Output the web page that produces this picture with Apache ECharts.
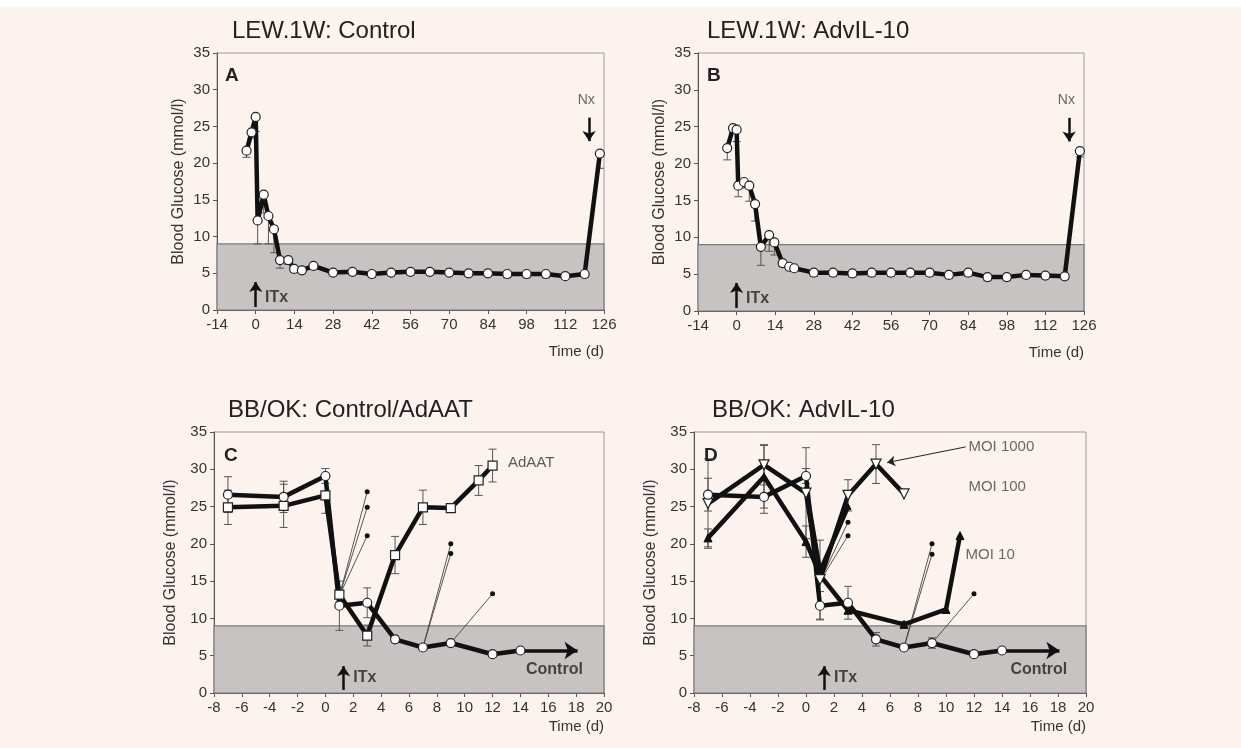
<!DOCTYPE html>
<html><head><meta charset="utf-8">
<script src="https://cdn.jsdelivr.net/npm/echarts@6/dist/echarts.min.js"></script>
<style>html,body{margin:0;padding:0;background:#fff}#c{width:1241px;height:748px}</style>
</head><body><div id="c"></div>
<script>
// ---------- DATA ----------
// Panel A: LEW.1W Control
const aDays = [-3.3, -1.5, 0, 0.7, 2.9, 4.6, 6.6, 8.8, 11.8, 13.9, 16.7, 20.9, 28, 35, 42, 49, 56, 63, 70, 77, 84, 91, 98, 105, 112, 119, 124.5];
const aGlucose = [21.7, 24.2, 26.3, 12.2, 15.7, 12.8, 11.0, 6.8, 6.8, 5.6, 5.4, 6.0, 5.1, 5.2, 4.9, 5.1, 5.2, 5.2, 5.1, 5.0, 5.0, 4.9, 4.9, 4.9, 4.6, 4.9, 21.3];
const aErr = [0.9, 0.8, 2.0, 3.2, 2.5, 3.8, 3.2, 1.1, 0.6, 0.5, 0.4, 0.4, 0.4, 0.4, 0.4, 0.4, 0.4, 0.4, 0.4, 0.4, 0.4, 0.5, 0.5, 0.5, 0.4, 0.4, 2.0];
// Panel B: LEW.1W AdvIL-10
const bDays = [-3.4, -1.3, 0, 0.6, 2.7, 4.6, 6.7, 8.8, 11.8, 13.7, 16.7, 19.1, 20.9, 28, 35, 42, 49, 56, 63, 70, 77, 84, 91, 98, 105, 112, 119, 124.5];
const bGlucose = [22.1, 24.8, 24.6, 17.0, 17.5, 17.0, 14.5, 8.7, 10.3, 9.3, 6.5, 6.0, 5.8, 5.2, 5.2, 5.1, 5.2, 5.2, 5.2, 5.2, 4.9, 5.2, 4.6, 4.6, 4.9, 4.8, 4.7, 21.7];
const bErr = [1.6, 0.6, 1.6, 1.5, 0.8, 2.1, 2.3, 2.5, 2.2, 1.7, 0.5, 0.4, 0.4, 0.5, 0.5, 0.5, 0.5, 0.5, 0.5, 0.5, 0.5, 0.5, 0.5, 0.5, 0.5, 0.4, 0.4, 0.8];
// Panel C: BB/OK Control / AdAAT
const ctlDays = [-7, -3, 0, 1, 3, 5, 7, 9, 12, 14];
const ctlGlucose = [26.6, 26.3, 29.1, 11.7, 12.1, 7.2, 6.1, 6.7, 5.2, 5.7];
const ctlErrC = [2.4, 2.1, 1.0, 3.3, 2.0, 0.4, 0.3, 0.3, 0.3, 0.3];
const aatDays = [-7, -3, 0, 1, 3, 5, 7, 9, 11, 12];
const aatGlucose = [24.9, 25.1, 26.5, 13.2, 7.7, 18.5, 24.9, 24.8, 28.5, 30.5];
const aatErr = [2.3, 2.9, 2.4, 1.0, 1.4, 2.5, 2.3, 0.5, 2.0, 2.2];
// individual rejection traces (start day, start value, end day, end value)
const rejStartDay = [1, 1, 1, 7, 7, 9];
const rejStartVal = [13.0, 13.0, 13.0, 6.1, 6.1, 6.7];
const rejEndDay = [3, 3, 3, 9, 9, 12];
const rejEndVal = [27.0, 24.9, 21.1, 20.0, 18.7, 13.3];
// Panel D: BB/OK AdvIL-10
const ctlErrD = [2.2, 2.2, 1.0, 1.9, 2.2, 0.9, 0.3, 0.7, 0.3, 0.3];
const moi1000Days = [-7, -3, 0, 1, 3, 5, 7];
const moi1000 = [25.4, 30.6, 26.8, 15.2, 26.5, 30.7, 26.7];
const moi1000Err = [6.0, 2.7, 6.1, 5.3, 2.1, 2.6, 0];
const moi100Days = [0, 1, 3];
const moi100 = [27.5, 16.3, 25.0];
const moi10Days = [-7, -3, 0, 1, 3, 7, 10, 11];
const moi10 = [20.8, 29.0, 20.3, 15.8, 11.1, 9.2, 11.2, 21.1];
const moi10Err = [1.2, 4.2, 2.1, 0, 0, 0.4, 0, 0];
const dRejStartDay = [1, 1, 7, 7, 9];
const dRejStartVal = [15.0, 15.0, 6.1, 6.1, 6.7];
const dRejEndDay = [3, 3, 9, 9, 12];
const dRejEndVal = [22.9, 21.1, 20.0, 18.6, 13.3];
// axis ticks
const longDayTicks = {min: -14, max: 126, interval: 14};
const shortDayTicks = {min: -8, max: 20, interval: 2};
const glucoseTicks = {min: 0, max: 35, interval: 5};
const normoLimit = 9;

// ---------- BUILD ----------
const FONT = 'Liberation Sans, Arial, sans-serif';
const zip = (xs, ys) => xs.map((x, i) => [x, ys[i]]);
const errLow = (xs, ys, es) => xs.map((x, i) => [x, ys[i] - es[i], ys[i]]).filter((d, i) => es[i] > 0);
const errBoth = (xs, ys, es) => xs.map((x, i) => [x, ys[i] - es[i], ys[i] + es[i]]).filter((d, i) => es[i] > 0);

const grids = [
  {left: 217, top: 53, width: 387, height: 257},
  {left: 698, top: 53, width: 386, height: 258},
  {left: 214, top: 432, width: 390, height: 261},
  {left: 694, top: 432, width: 392, height: 261}
].map(g => Object.assign(g, {show: true, borderColor: '#9a9a9a', borderWidth: 1, backgroundColor: 'transparent'}));

function xAx(i, t, namePad) {
  return Object.assign({type: 'value', gridIndex: i,
    axisLine: {show: true, onZero: false, lineStyle: {color: '#555'}},
    axisTick: {show: true, length: 4, lineStyle: {color: '#555'}},
    axisLabel: {color: '#333', fontSize: 15, fontFamily: FONT, margin: 7},
    splitLine: {show: false},
    name: 'Time (d)', nameLocation: 'end', nameGap: 0,
    nameTextStyle: {color: '#333', fontSize: 15, fontFamily: FONT, align: 'right', verticalAlign: 'top', padding: [namePad, 0, 0, 0]}
  }, t);
}
function yAx(i, gap) {
  return Object.assign({type: 'value', gridIndex: i,
    axisLine: {show: true, onZero: false, lineStyle: {color: '#555'}},
    axisTick: {show: true, length: 4, lineStyle: {color: '#555'}},
    axisLabel: {color: '#333', fontSize: 15, fontFamily: FONT, margin: 7},
    splitLine: {show: false},
    name: 'Blood Glucose (mmol/l)', nameLocation: 'middle', nameGap: gap,
    nameTextStyle: {color: '#333', fontSize: 16, fontFamily: FONT}
  }, glucoseTicks);
}

function errRender(params, api) {
  const x = api.value(0), lo = api.value(1), hi = api.value(2);
  const p1 = api.coord([x, lo]), p2 = api.coord([x, hi]);
  const w = 4, st = {stroke: '#555', lineWidth: 1};
  return {type: 'group', children: [
    {type: 'line', shape: {x1: p1[0], y1: p1[1], x2: p2[0], y2: p2[1]}, style: st},
    {type: 'line', shape: {x1: p1[0] - w, y1: p1[1], x2: p1[0] + w, y2: p1[1]}, style: st},
    {type: 'line', shape: {x1: p2[0] - w, y1: p2[1], x2: p2[0] + w, y2: p2[1]}, style: st}
  ]};
}
const errSeries = (i, data) => ({type: 'custom', xAxisIndex: i, yAxisIndex: i, renderItem: errRender,
  encode: {x: 0, y: [1, 2]}, data, z: 3, silent: true});

const band = (i) => ({type: 'line', xAxisIndex: i, yAxisIndex: i, data: [], z: 1, silent: true,
  markArea: {silent: true, itemStyle: {color: '#c6c3c2', borderColor: '#7a7a7a', borderWidth: 1.2},
    data: [[{yAxis: 0}, {yAxis: normoLimit}]]}});

const mainLine = (i, data, symbol, opts) => Object.assign({type: 'line', xAxisIndex: i, yAxisIndex: i, data,
  symbol, symbolSize: 9, showAllSymbol: true,
  itemStyle: {color: '#fff', borderColor: '#222', borderWidth: 1.2},
  lineStyle: {color: '#111', width: 4.5}, z: 5, silent: true}, opts || {});

const thinTraces = (i, sd, sv, ed, ev) => sd.map((d, k) => ({type: 'line', xAxisIndex: i, yAxisIndex: i,
  data: [[d, sv[k]], [ed[k], ev[k]]],
  symbol: (v, p) => p.dataIndex === 1 ? 'circle' : 'none', symbolSize: 5,
  itemStyle: {color: '#111'}, lineStyle: {color: '#444', width: 0.9}, z: 4, silent: true}));

const arrow = (i, from, to, width, size) => ({type: 'line', xAxisIndex: i, yAxisIndex: i, data: [], z: 6, silent: true,
  markLine: {silent: true, symbol: ['none', 'arrow'], symbolSize: size, label: {show: false},
    lineStyle: {type: 'solid', color: '#111', width}, emphasis: {disabled: true},
    data: [[{coord: from}, {coord: to}]]}});

const labels = (i, items) => ({type: 'scatter', xAxisIndex: i, yAxisIndex: i, symbolSize: 0, z: 7, silent: true,
  data: items.map(it => ({value: [it.x, it.y], label: {show: true, position: 'right', distance: 0,
    formatter: it.text, color: it.color || '#333', fontSize: it.size || 15, fontWeight: it.bold ? 'bold' : 'normal', fontFamily: FONT}}))});

const series = [
  // A
  band(0),
  errSeries(0, errLow(aDays, aGlucose, aErr)),
  mainLine(0, zip(aDays, aGlucose), 'circle'),
  arrow(0, [0, 0.4], [0, 3.8], 2.5, 10),
  arrow(0, [120.6, 26.2], [120.6, 23.0], 2.5, 10),
  labels(0, [{x: 3.4, y: 1.7, text: 'ITx', bold: true, size: 16, color: '#222'},
             {x: 116.5, y: 28.6, text: 'Nx', size: 14, color: '#444'}]),
  // B
  band(1),
  errSeries(1, errLow(bDays, bGlucose, bErr)),
  mainLine(1, zip(bDays, bGlucose), 'circle'),
  arrow(1, [0, 0.4], [0, 3.8], 2.5, 10),
  arrow(1, [120.6, 26.2], [120.6, 23.0], 2.5, 10),
  labels(1, [{x: 3.4, y: 1.7, text: 'ITx', bold: true, size: 16, color: '#222'},
             {x: 116.5, y: 28.6, text: 'Nx', size: 14, color: '#444'}]),
  // C
  band(2),
  errSeries(2, errBoth(ctlDays, ctlGlucose, ctlErrC)),
  errSeries(2, errBoth(aatDays, aatGlucose, aatErr)),
  ...thinTraces(2, rejStartDay, rejStartVal, rejEndDay, rejEndVal),
  mainLine(2, zip(aatDays, aatGlucose), 'rect', {symbolSize: 9}),
  mainLine(2, zip(ctlDays, ctlGlucose), 'circle'),
  arrow(2, [14, 5.7], [18.1, 5.7], 3.5, 13),
  arrow(2, [1.3, 0.4], [1.3, 3.6], 2.5, 10),
  labels(2, [{x: 2.0, y: 2.0, text: 'ITx', bold: true, size: 16, color: '#222'},
             {x: 14.4, y: 3.2, text: 'Control', bold: true, size: 16, color: '#222'},
             {x: 13.1, y: 30.9, text: 'AdAAT', size: 15, color: '#333'}]),
  // D
  band(3),
  errSeries(3, errBoth(ctlDays, ctlGlucose, ctlErrD)),
  errSeries(3, errBoth(moi1000Days, moi1000, moi1000Err)),
  errSeries(3, errBoth(moi10Days, moi10, moi10Err)),
  ...thinTraces(3, dRejStartDay, dRejStartVal, dRejEndDay, dRejEndVal),
  mainLine(3, zip(moi10Days, moi10), 'triangle', {itemStyle: {color: '#111', borderColor: '#111', borderWidth: 1}, symbolSize: 8}),
  mainLine(3, zip(moi100Days, moi100), 'triangle', {itemStyle: {color: '#111', borderColor: '#111', borderWidth: 1}, symbolSize: 6}),
  mainLine(3, zip(moi1000Days, moi1000), 'triangle', {symbolRotate: 180, symbolSize: 10}),
  mainLine(3, zip(ctlDays, ctlGlucose), 'circle'),
  arrow(3, [14, 5.7], [18.1, 5.7], 3.5, 13),
  arrow(3, [1.3, 0.4], [1.3, 3.6], 2.5, 10),
  {type: 'line', xAxisIndex: 3, yAxisIndex: 3, data: [], z: 6, silent: true,
   markLine: {silent: true, symbol: ['none', 'arrow'], symbolSize: 8, label: {show: false},
     lineStyle: {type: 'solid', color: '#222', width: 1},
     data: [[{coord: [11.4, 33.0]}, {coord: [5.8, 30.9]}]]}},
  labels(3, [{x: 2.0, y: 2.0, text: 'ITx', bold: true, size: 16, color: '#222'},
             {x: 14.6, y: 3.2, text: 'Control', bold: true, size: 16, color: '#222'},
             {x: 11.6, y: 33.0, text: 'MOI 1000', size: 15, color: '#444'},
             {x: 11.6, y: 27.6, text: 'MOI 100', size: 15, color: '#444'},
             {x: 11.4, y: 18.5, text: 'MOI 10', size: 15, color: '#444'}])
];

const titleStyle = {color: '#222', fontSize: 24, fontWeight: 'normal', fontFamily: FONT};
const letterStyle = {color: '#222', fontSize: 19, fontWeight: 'bold', fontFamily: FONT};
const option = {
  backgroundColor: '#fcf3ef',
  animation: false,
  title: [
    {text: 'LEW.1W: Control', left: 227, top: 14, textStyle: titleStyle},
    {text: 'LEW.1W: AdvIL-10', left: 702, top: 14, textStyle: titleStyle},
    {text: 'BB/OK: Control/AdAAT', left: 223, top: 393, textStyle: titleStyle},
    {text: 'BB/OK: AdvIL-10', left: 707, top: 393, textStyle: titleStyle},
    {text: 'A', left: 220, top: 61, textStyle: letterStyle},
    {text: 'B', left: 702, top: 61, textStyle: letterStyle},
    {text: 'C', left: 219, top: 441, textStyle: letterStyle},
    {text: 'D', left: 699, top: 441, textStyle: letterStyle}
  ],
  graphic: [{type: 'rect', left: 0, top: 0, shape: {width: 1241, height: 7}, style: {fill: '#ffffff'}}],
  grid: grids,
  xAxis: [xAx(0, longDayTicks, 34), xAx(1, longDayTicks, 34), xAx(2, shortDayTicks, 26), xAx(3, shortDayTicks, 26)],
  yAxis: [yAx(0, 30), yAx(1, 30), yAx(2, 35), yAx(3, 35)],
  series
};
const chart = echarts.init(document.getElementById('c'), null, {renderer: 'canvas'});
chart.setOption(option);
</script></body></html>
